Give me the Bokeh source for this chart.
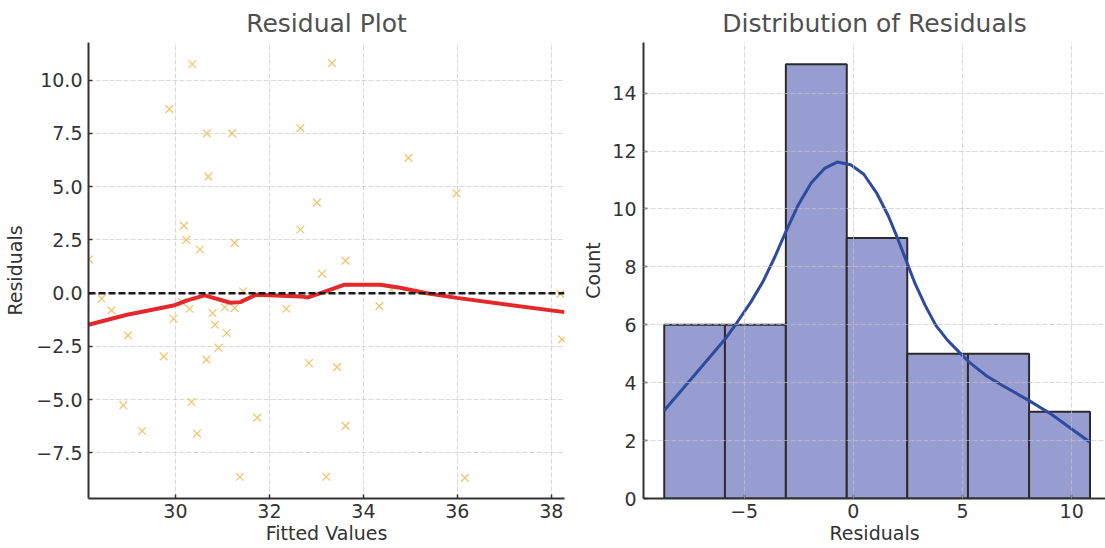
from bokeh.plotting import figure
from bokeh.layouts import row
from bokeh.models import Range1d, FixedTicker, Span
from bokeh.embed import file_html
from bokeh.resources import INLINE

# ---------------- data ----------------
fitted_values = [30.36, 29.87, 30.67, 31.21, 30.70, 30.18, 30.23, 30.52, 31.26, 28.16,
                 32.66, 32.66, 33.33, 34.96, 35.98, 33.01, 33.62, 33.12, 28.43, 28.64,
                 28.99, 29.96, 30.14, 30.30, 29.75, 28.89, 29.29, 30.34, 30.46, 30.66,
                 30.79, 30.84, 30.92, 31.09, 31.05, 31.26, 31.44, 31.37, 31.74, 32.36,
                 34.34, 32.84, 33.44, 33.62, 33.21, 36.16, 38.19, 38.23, 34.60]
residual_values = [10.75, 8.64, 7.50, 7.50, 5.47, 3.17, 2.50, 2.05, 2.36, 1.58,
                   7.75, 2.99, 10.80, 6.35, 4.69, 4.25, 1.53, 0.91, -0.26, -0.81,
                   -1.98, -1.20, -0.42, -0.73, -2.97, -5.26, -6.47, -5.11, -6.59, -3.12,
                   -0.94, -1.48, -2.56, -1.87, -0.66, -0.70, 0.09, -8.62, -5.84, -0.73,
                   -0.61, -3.28, -3.47, -6.23, -8.62, -8.67, -0.03, -2.17, 0.16]

lowess_x = [28.15, 28.97, 29.96, 30.25, 30.62, 31.17, 31.38, 31.72, 32.66, 32.82,
            33.09, 33.60, 34.36, 34.75, 35.35, 35.99, 38.28]
lowess_y = [-1.48, -1.01, -0.58, -0.34, -0.10, -0.45, -0.42, -0.07, -0.15, -0.20,
            0.00, 0.40, 0.40, 0.27, 0.00, -0.22, -0.89]

bin_edges = [-8.66, -5.88, -3.09, -0.30, 2.47, 5.25, 8.05, 10.84]
bin_counts = [6, 6, 15, 9, 5, 5, 3]

kde_x = [-8.66, -7.29, -5.88, -5.39, -4.68, -4.13, -3.59, -3.13, -2.55, -1.93,
         -1.32, -0.74, -0.12, 0.48, 1.07, 1.61, 2.02, 2.43, 2.83, 3.29,
         3.78, 4.32, 4.87, 5.32, 6.13, 6.81, 8.03, 9.07, 9.97, 10.84]
kde_y = [3.04, 4.25, 5.50, 6.01, 6.80, 7.50, 8.35, 9.15, 10.10, 10.90,
         11.40, 11.62, 11.53, 11.20, 10.55, 9.75, 9.00, 8.20, 7.42, 6.67,
         5.98, 5.46, 5.04, 4.70, 4.22, 3.91, 3.39, 2.91, 2.42, 1.94]

left_x_ticks = [30, 32, 34, 36, 38]
left_x_labels = ["30", "32", "34", "36", "38"]
left_y_ticks = [-7.5, -5.0, -2.5, 0.0, 2.5, 5.0, 7.5, 10.0]
left_y_labels = ["\u22127.5", "\u22125.0", "\u22122.5", "0.0", "2.5", "5.0", "7.5", "10.0"]
right_x_ticks = [-5, 0, 5, 10]
right_x_labels = ["\u22125", "0", "5", "10"]
right_y_ticks = [0, 2, 4, 6, 8, 10, 12, 14]
right_y_labels = ["0", "2", "4", "6", "8", "10", "12", "14"]

FONT = "DejaVu Sans"
TXT = "#333333"
H = 548


def style(p, xt, xl, yt, yl, xlab, ylab, xstand, ystand, xlabstand, ylabstand):
    p.outline_line_color = None
    p.background_fill_color = "white"
    p.border_fill_color = "white"
    p.title.text_font = FONT
    p.title.text_font_size = "25px"
    p.title.text_font_style = "normal"
    p.title.text_color = "#505050"
    p.title.standoff = 9
    p.title.align = "center"
    for ax, ticks, labels, lab, st, lst in ((p.xaxis[0], xt, xl, xlab, xstand, xlabstand),
                                           (p.yaxis[0], yt, yl, ylab, ystand, ylabstand)):
        ax.ticker = FixedTicker(ticks=ticks)
        ax.major_label_overrides = {t: s for t, s in zip(ticks, labels)}
        ax.axis_label = lab
        ax.axis_label_text_font = FONT
        ax.axis_label_text_font_size = "19px"
        ax.axis_label_text_font_style = "normal"
        ax.axis_label_text_color = TXT
        ax.major_label_text_font = FONT
        ax.major_label_text_font_size = "19px"
        ax.major_label_text_color = TXT
        ax.axis_line_color = "#333333"
        ax.axis_line_width = 2
        ax.major_tick_line_color = "#333333"
        ax.major_tick_line_width = 1.5
        ax.major_tick_in = 4
        ax.major_tick_out = 0
        ax.minor_tick_line_color = None
        ax.major_label_standoff = st
        ax.axis_label_standoff = lst
    for g in (p.xgrid[0], p.ygrid[0]):
        g.grid_line_color = "#c4c4c4"
        g.grid_line_alpha = 0.65
        g.grid_line_dash = "5 2"
        g.grid_line_width = 1


# ---------------- left: residual plot ----------------
p1 = figure(width=579, height=H, x_range=Range1d(28.15, 38.28), y_range=Range1d(-9.64, 11.77),
            output_backend="svg", toolbar_location=None, title="Residual Plot",
            min_border_left=88, min_border_right=15, min_border_top=42, min_border_bottom=50)
style(p1, left_x_ticks, left_x_labels, left_y_ticks, left_y_labels,
      "Fitted Values", "Residuals", 5, 6, 1, 7)

p1.scatter(fitted_values, residual_values, marker="x", size=11,
           line_color="#f2c46e", line_width=1.3)
p1.line(lowess_x, lowess_y, line_color="#e3292a", line_width=4)
p1.add_layout(Span(location=0, dimension="width", line_color="#1a1a1a",
                   line_width=2.5, line_dash="7 3"))

# ---------------- right: histogram ----------------
p2 = figure(width=526, height=H, x_range=Range1d(-9.61, 11.55), y_range=Range1d(0, 15.75),
            output_backend="svg", toolbar_location=None, title="Distribution of Residuals",
            min_border_left=58, min_border_right=0, min_border_top=42, min_border_bottom=50)
style(p2, right_x_ticks, right_x_labels, right_y_ticks, right_y_labels,
      "Residuals", "Count", 5, 7, 1, 5)
p2.xgrid.level = "guide"
p2.ygrid.level = "guide"

p2.quad(left=bin_edges[:-1], right=bin_edges[1:], bottom=0, top=bin_counts,
        fill_color="#979dd1", line_color="#2b2b2b", line_width=2)
p2.line(kde_x, kde_y, line_color="#2e4b9d", line_width=3)

layout = row(p1, p2)
open("out.html", "w").write(file_html(layout, INLINE))
